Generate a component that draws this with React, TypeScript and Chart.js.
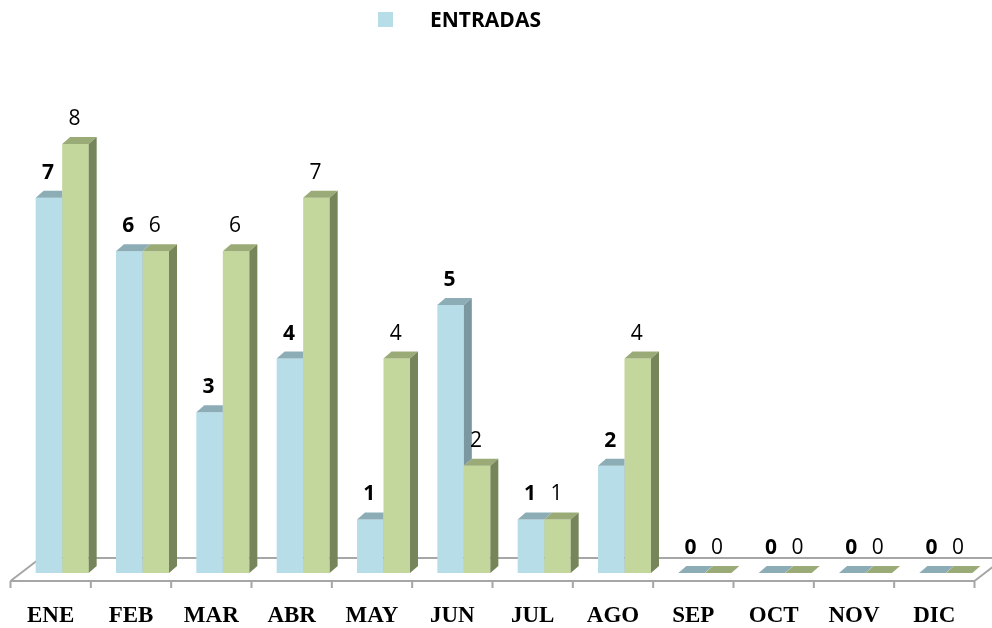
import { useEffect, useRef } from "react";
import { Chart, registerables } from "chart.js";

Chart.register(...registerables);

const categories = ["ENE", "FEB", "MAR", "ABR", "MAY", "JUN", "JUL", "AGO", "SEP", "OCT", "NOV", "DIC"];
const entradas = [7, 6, 3, 4, 1, 5, 1, 2, 0, 0, 0, 0];
const salidas = [8, 6, 6, 7, 4, 2, 1, 4, 0, 0, 0, 0];
const seriesNames = ["ENTRADAS", "SALIDAS"];

const FRONT = ["#B7DEE8", "#C3D69B"];
const TOP = ["#8DADB6", "#9BAB77"];
const SIDE = ["#7B98A0", "#77865A"];
const DX = 8;
const DY = -7;
const FLOOR_FRONT_SHIFT = -11.5;
const FLOOR_BACK_SHIFT = 18.5;

function boxOf(el: any) {
  const p = el.getProps(["x", "y", "base", "width"], true);
  return { left: p.x - p.width / 2, right: p.x + p.width / 2, top: p.y, bottom: p.base };
}

const depthPlugin = {
  id: "depth3d",
  beforeDatasetsDraw(chart: any) {
    const { ctx, chartArea, scales } = chart;
    const xs = scales.x;
    const ys = scales.y;
    const base = ys.getPixelForValue(0);
    const front = base + 8;
    const back = base - 15;
    const fl = chartArea.left + FLOOR_FRONT_SHIFT;
    const fr = chartArea.right + FLOOR_FRONT_SHIFT;
    const bl = chartArea.left + FLOOR_BACK_SHIFT;
    const br = chartArea.right + FLOOR_BACK_SHIFT;
    ctx.save();
    ctx.strokeStyle = "#A6A6A6";
    ctx.lineWidth = 2;
    ctx.beginPath();
    ctx.moveTo(bl, back);
    ctx.lineTo(br, back);
    ctx.moveTo(fl, front);
    ctx.lineTo(bl, back);
    ctx.moveTo(fr, front);
    ctx.lineTo(br, back);
    ctx.moveTo(fl, front);
    ctx.lineTo(fr, front);
    const w = (chartArea.right - chartArea.left) / categories.length;
    for (let i = 0; i <= categories.length; i++) {
      const tx = (i < categories.length ? xs.getPixelForValue(i) - w / 2 : xs.getPixelForValue(i - 1) + w / 2) + FLOOR_FRONT_SHIFT;
      ctx.moveTo(tx, front);
      ctx.lineTo(tx, front + 7);
    }
    ctx.stroke();
    ctx.restore();
  },
  afterDatasetDraw(chart: any, args: any) {
    const { ctx, width, height } = chart;
    const di = args.index;
    const meta = args.meta;
    const other = di === 0 ? chart.getDatasetMeta(1) : null;
    meta.data.forEach((el: any, i: number) => {
      const b = boxOf(el);
      ctx.save();
      if (other && other.data[i]) {
        const g = boxOf(other.data[i]);
        ctx.beginPath();
        ctx.rect(0, 0, width, height);
        ctx.moveTo(g.left, g.bottom);
        ctx.lineTo(g.left, g.top);
        ctx.lineTo(g.left + DX, g.top + DY);
        ctx.lineTo(g.right + DX, g.top + DY);
        ctx.lineTo(g.right + DX, g.bottom + DY);
        ctx.lineTo(g.right, g.bottom);
        ctx.closePath();
        ctx.clip("evenodd");
      }
      ctx.fillStyle = TOP[di];
      ctx.beginPath();
      ctx.moveTo(b.left, b.top);
      ctx.lineTo(b.left + DX, b.top + DY);
      ctx.lineTo(b.right + DX, b.top + DY);
      ctx.lineTo(b.right, b.top);
      ctx.closePath();
      ctx.fill();
      if (b.bottom - b.top > 0.5) {
        ctx.fillStyle = SIDE[di];
        ctx.beginPath();
        ctx.moveTo(b.right, b.top);
        ctx.lineTo(b.right + DX, b.top + DY);
        ctx.lineTo(b.right + DX, b.bottom + DY);
        ctx.lineTo(b.right, b.bottom);
        ctx.closePath();
        ctx.fill();
      }
      ctx.restore();
    });
  },
  afterDatasetsDraw(chart: any) {
    const { ctx, scales } = chart;
    const xs = scales.x;
    ctx.save();
    chart.data.datasets.forEach((ds: any, di: number) => {
      const meta = chart.getDatasetMeta(di);
      ctx.font = (di === 0 ? "bold " : "") + "21px 'Open Sans'";
      ctx.fillStyle = "#000";
      ctx.textAlign = "center";
      ctx.textBaseline = "alphabetic";
      meta.data.forEach((el: any, i: number) => {
        const p = el.getProps(["x", "y"], true);
        ctx.fillText(String(ds.data[i]), p.x - 1, p.y - 19);
      });
    });
    ctx.font = "bold 23px 'Liberation Serif'";
    ctx.textAlign = "center";
    ctx.textBaseline = "alphabetic";
    ctx.fillStyle = "#000";
    categories.forEach((c, i) => {
      ctx.fillText(c, xs.getPixelForValue(i) + FLOOR_FRONT_SHIFT, 622);
    });
    ctx.fillStyle = FRONT[0];
    ctx.fillRect(378, 12, 15, 15);
    ctx.fillStyle = "#000";
    ctx.font = "bold 21px 'Open Sans'";
    ctx.textAlign = "left";
    ctx.fillText(seriesNames[0], 430, 27);
    ctx.restore();
  },
};

export default function App() {
  const ref = useRef<HTMLCanvasElement>(null);
  useEffect(() => {
    if (!ref.current) return;
    const chart = new Chart(ref.current, {
      type: "bar",
      data: {
        labels: categories,
        datasets: [
          { label: seriesNames[0], data: entradas, backgroundColor: FRONT[0], borderWidth: 0 },
          { label: seriesNames[1], data: salidas, backgroundColor: FRONT[1], borderWidth: 0 },
        ],
      },
      options: {
        responsive: false,
        animation: false,
        layout: { padding: { top: 144, bottom: 55, left: 22, right: 6 } },
        datasets: { bar: { categoryPercentage: 0.66, barPercentage: 1 } },
        plugins: { legend: { display: false }, tooltip: { enabled: false } },
        scales: {
          x: { display: false },
          y: { display: false, min: 0, max: 8 },
        },
      },
      plugins: [depthPlugin],
    });
    return () => chart.destroy();
  }, []);
  return (
    <div style={{ position: "absolute", left: 0, top: 0, width: 992, height: 628, background: "#fff" }}>
      <canvas ref={ref} width={992} height={628} />
    </div>
  );
}
